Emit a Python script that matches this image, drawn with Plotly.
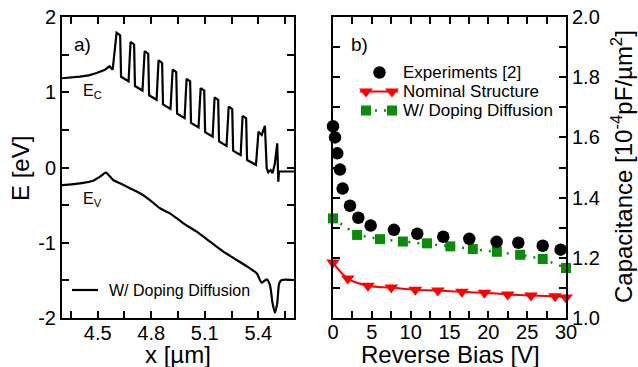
import plotly.graph_objects as go

W, H = 638, 367
FONT = "Liberation Sans, Arial, Helvetica, sans-serif"

# ---------------- Panel a) band diagram (read from picture) ----------------
ec_x = [4.300, 4.350, 4.400, 4.450, 4.494, 4.541, 4.566, 4.584,
        4.606, 4.626, 4.631, 4.673,
        4.684, 4.704, 4.709, 4.751,
        4.763, 4.783, 4.788, 4.830,
        4.841, 4.861, 4.866, 4.908,
        4.920, 4.940, 4.945, 4.987,
        4.998, 5.018, 5.023, 5.065,
        5.077, 5.097, 5.102, 5.144,
        5.155, 5.175, 5.180, 5.222,
        5.234, 5.254, 5.259, 5.301,
        5.312, 5.332, 5.337, 5.387,
        5.401, 5.419, 5.437, 5.447, 5.456, 5.469, 5.480, 5.493, 5.506, 5.512, 5.516, 5.600]
ec_e = [1.186, 1.192, 1.207, 1.225, 1.255, 1.300, 1.345, 1.300,
        1.791, 1.758, 1.206, 1.146,
        1.668, 1.635, 1.083, 1.023,
        1.545, 1.512, 0.960, 0.900,
        1.423, 1.390, 0.838, 0.778,
        1.300, 1.267, 0.715, 0.655,
        1.177, 1.144, 0.592, 0.532,
        1.054, 1.021, 0.469, 0.409,
        0.931, 0.898, 0.346, 0.286,
        0.808, 0.775, 0.223, 0.163,
        0.685, 0.652, 0.100, 0.035,
        0.476, 0.432, 0.555, -0.011, -0.064, -0.033, -0.077, 0.056, 0.322, -0.189, -0.053, -0.053]

ev_x = [4.300, 4.401, 4.475, 4.513, 4.546, 4.587, 4.625, 4.681, 4.737, 4.793,
        4.849, 4.905, 4.980, 5.055, 5.129, 5.204, 5.279, 5.353, 5.391, 5.419,
        5.447, 5.465, 5.480, 5.493, 5.506, 5.517, 5.531, 5.600]
ev_e = [-0.233, -0.210, -0.175, -0.122, -0.069, -0.166, -0.210, -0.276, -0.343, -0.432,
        -0.542, -0.609, -0.742, -0.853, -0.986, -1.119, -1.229, -1.340, -1.406, -1.531,
        -1.486, -1.561, -1.805, -1.930, -1.805, -1.539, -1.495, -1.495]

# ---------------- Panel b) capacitance vs reverse bias ----------------
exp_v = [0.0, 0.26, 0.55, 0.9, 1.24, 2.19, 3.26, 4.85, 7.85, 10.85, 14.2, 17.55, 21.07, 23.86, 27.0, 29.3]
exp_c = [1.637, 1.600, 1.547, 1.493, 1.430, 1.373, 1.333, 1.307, 1.293, 1.280, 1.270, 1.263, 1.253, 1.250, 1.240, 1.227]

nom_v = [0.0, 1.9, 4.5, 7.5, 10.6, 13.5, 16.6, 19.5, 22.5, 25.5, 28.6, 30.0]
nom_c = [1.184, 1.131, 1.107, 1.101, 1.094, 1.091, 1.087, 1.084, 1.078, 1.075, 1.072, 1.068]

dd_v = [0.0, 3.1, 6.05, 9.0, 12.1, 15.1, 18.0, 21.1, 24.1, 27.0, 30.0]
dd_c = [1.331, 1.276, 1.262, 1.254, 1.248, 1.238, 1.229, 1.220, 1.210, 1.196, 1.166]

x_ticks_a = [4.5, 4.8, 5.1, 5.4]
y_ticks_a = [-2, -1, 0, 1, 2]
x_ticks_b = [0, 5, 10, 15, 20, 25, 30]
y_ticks_b = [1.0, 1.2, 1.4, 1.6, 1.8, 2.0]

RED = "#ff0000"
GREEN = "#0a8c0a"

def px2fx(px):
    return px / W

def py2fy(py):
    return 1 - py / H

fig = go.Figure()

# panel a
fig.add_trace(go.Scatter(x=ec_x, y=ec_e, mode="lines", line=dict(color="black", width=2.2),
                         xaxis="x", yaxis="y", showlegend=False, cliponaxis=False))
fig.add_trace(go.Scatter(x=ev_x, y=ev_e, mode="lines", line=dict(color="black", width=2.2, shape="spline", smoothing=0.6),
                         xaxis="x", yaxis="y", showlegend=False, cliponaxis=False))

# panel b
fig.add_trace(go.Scatter(x=nom_v, y=nom_c, mode="lines+markers",
                         line=dict(color=RED, width=2, shape="spline", smoothing=1.0),
                         marker=dict(symbol="triangle-down", size=12, color=RED),
                         xaxis="x2", yaxis="y2", showlegend=False, cliponaxis=False))
fig.add_trace(go.Scatter(x=dd_v, y=dd_c, mode="lines+markers",
                         line=dict(color=GREEN, width=2.5, dash="2px,7px"),
                         marker=dict(symbol="square", size=10, color=GREEN),
                         xaxis="x2", yaxis="y2", showlegend=False, cliponaxis=False))
fig.add_trace(go.Scatter(x=exp_v, y=exp_c, mode="markers",
                         marker=dict(symbol="circle", size=12.5, color="black"),
                         xaxis="x2", yaxis="y2", showlegend=False, cliponaxis=False))

# hand-drawn legend keys on a pixel overlay
fig.add_trace(go.Scatter(x=[72, 98], y=[290, 290], mode="lines", line=dict(color="black", width=2.2),
                         xaxis="x3", yaxis="y3", showlegend=False, cliponaxis=False))
fig.add_trace(go.Scatter(x=[379.5], y=[72.5], mode="markers", marker=dict(symbol="circle", size=12.5, color="black"),
                         xaxis="x3", yaxis="y3", showlegend=False, cliponaxis=False))
fig.add_trace(go.Scatter(x=[360, 398], y=[91.5, 91.5], mode="lines", line=dict(color=RED, width=2),
                         xaxis="x3", yaxis="y3", showlegend=False, cliponaxis=False))
fig.add_trace(go.Scatter(x=[366, 392], y=[91.5, 91.5], mode="markers", marker=dict(symbol="triangle-down", size=12, color=RED),
                         xaxis="x3", yaxis="y3", showlegend=False, cliponaxis=False))
fig.add_trace(go.Scatter(x=[366, 392], y=[110.5, 110.5], mode="lines+markers",
                         line=dict(color=GREEN, width=2.5, dash="2px,7px"),
                         marker=dict(symbol="square", size=10, color=GREEN),
                         xaxis="x3", yaxis="y3", showlegend=False, cliponaxis=False))

common_axis = dict(showline=True, linewidth=2, linecolor="black", mirror="ticks",
                   ticks="inside", ticklen=7, tickwidth=2, tickcolor="black",
                   showgrid=False, zeroline=False, automargin=False,
                   tickfont=dict(family=FONT, size=20, color="black"))

yd = [1 - 318 / H, 1 - 17 / H]

fig.update_layout(
    width=W, height=H, autosize=False,
    margin=dict(l=0, r=0, t=0, b=0, pad=0),
    paper_bgcolor="white", plot_bgcolor="rgba(0,0,0,0)",
    font=dict(family=FONT, color="black"),
    xaxis=dict(domain=[62 / W, 294 / W], range=[4.3, 5.6], anchor="y",
               tickmode="array", tickvals=x_ticks_a, ticktext=[f"{v:.1f}" for v in x_ticks_a],
               minor=dict(ticks="inside", ticklen=7, tickwidth=2, tickcolor="black", tick0=4.35, dtick=0.15),
               ticklabelstandoff=-4,
               **common_axis),
    yaxis=dict(domain=yd, range=[-2, 2], anchor="x",
               tickmode="array", tickvals=y_ticks_a, ticktext=[str(v) for v in y_ticks_a],
               minor=dict(ticks="inside", ticklen=7, tickwidth=2, tickcolor="black", tick0=-2, dtick=0.5),
               **common_axis),
    xaxis2=dict(domain=[333 / W, 566 / W], range=[0, 30], anchor="y2",
                tickmode="array", tickvals=x_ticks_b, ticktext=[str(v) for v in x_ticks_b],
                minor=dict(ticks="inside", ticklen=7, tickwidth=2, tickcolor="black", tick0=0, dtick=2.5),
                ticklabelstandoff=-5,
                **common_axis),
    yaxis2=dict(domain=yd, range=[1.0, 2.0], anchor="x2", side="right",
                tickmode="array", tickvals=y_ticks_b, ticktext=[f"{v:.1f}" for v in y_ticks_b],
                minor=dict(ticks="inside", ticklen=7, tickwidth=2, tickcolor="black", tick0=1.0, dtick=0.1),
                **common_axis),
    xaxis3=dict(domain=[0, 1], range=[0, W], anchor="y3", visible=False, fixedrange=True),
    yaxis3=dict(domain=[0, 1], range=[H, 0], anchor="x3", visible=False, fixedrange=True),
)

ann = [
    dict(text="a)", x=72, y=44, size=19),
    dict(text="b)", x=349, y=44, size=19),
    dict(text="E<sub>C</sub>", x=81, y=92, size=16),
    dict(text="E<sub>V</sub>", x=81, y=199, size=16),
    dict(text="W/ Doping Diffusion", x=107, y=290, size=16),
    dict(text="Experiments [2]", x=401, y=73, size=17),
    dict(text="Nominal Structure", x=401, y=92, size=17),
    dict(text="W/ Doping Diffusion", x=401, y=110.5, size=17),
]
for a in ann:
    fig.add_annotation(text=a["text"], x=px2fx(a["x"]), y=py2fy(a["y"]), xref="paper", yref="paper",
                       xanchor="left", yanchor="middle", showarrow=False,
                       font=dict(family=FONT, size=a["size"], color="black"))

# axis titles
titles = [
    dict(text="E [eV]", x=20, y=168, angle=-90, size=24),
    dict(text="x [µm]", x=178, y=354, angle=0, size=24),
    dict(text="Reverse Bias [V]", x=450, y=354, angle=0, size=24),
    dict(text="Capacitance [10<sup>-4</sup>pF/µm<sup>2</sup>]", x=622, y=167, angle=-90, size=24),
]
for t in titles:
    fig.add_annotation(text=t["text"], x=px2fx(t["x"]), y=py2fy(t["y"]), xref="paper", yref="paper",
                       xanchor="center", yanchor="middle", textangle=t["angle"], showarrow=False,
                       font=dict(family=FONT, size=t["size"], color="black"))

fig.write_html("out.html", config={"displayModeBar": False},
               post_script="document.body.style.margin='0';document.body.style.overflow='hidden';")
